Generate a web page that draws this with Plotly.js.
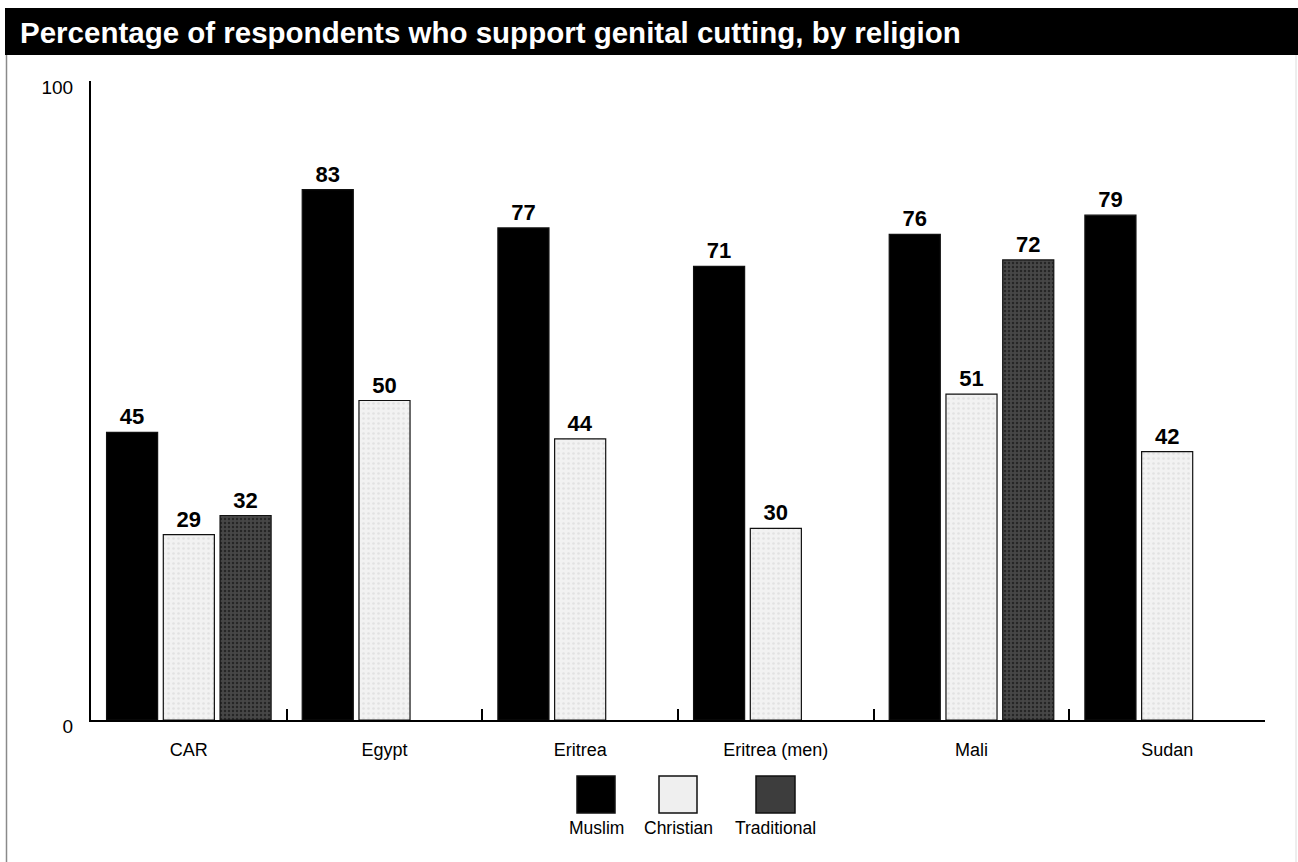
<!DOCTYPE html>
<html>
<head>
<meta charset="utf-8">
<script src="https://cdn.plot.ly/plotly-3.0.1.min.js"></script>
<style>
  html, body { margin: 0; padding: 0; background: #fff; }
  #chart { width: 1298px; height: 862px; }
</style>
</head>
<body>
<div id="chart"></div>
<script>
// Support for genital cutting by religion of respondent (%)
const countries = ["CAR", "Egypt", "Eritrea", "Eritrea (men)", "Mali", "Sudan"];
const muslim      = [45, 83, 77, 71, 76, 79];
const christian   = [29, 50, 44, 30, 51, 42];
const traditional = [32, null, null, null, 72, null];
const seriesNames = ["Muslim", "Christian", "Traditional"];
const yTicks = [0, 100];
const chartTitle = "Percentage of respondents who support genital cutting, by religion";

const FONT = "Liberation Sans, Arial, Helvetica, sans-serif";
const W = 1298, H = 862;
const M = { l: 91, r: 33, t: 81, b: 142 };
const plotW = W - M.l - M.r, plotH = H - M.t - M.b;
// pixel -> paper helpers for decoration placement
const px = x => (x - M.l) / plotW;
const py = y => (H - M.b - y) / plotH;

const fills = ["#000000", "#efefef", "#3d3d3d"];
const lineCol = "#111";

function barTrace(name, values, i) {
  const t = {
    type: "bar",
    name: name,
    x: countries,
    y: values,
    text: values.map(v => v == null ? "" : String(v)),
    texttemplate: "%{text}",
    textposition: "outside",
    cliponaxis: false,
    textfont: { family: FONT, size: 22, color: "#000", weight: "bold" },
    marker: {
      color: fills[i],
      line: { color: lineCol, width: 1.2 }
    },
    hoverinfo: "x+y+name",
    showlegend: false
  };
  if (i === 2) {
    t.marker.pattern = { shape: ".", fgcolor: "#262626", bgcolor: "#474747", size: 4, solidity: 0.3 };
  } else if (i === 1) {
    t.marker.pattern = { shape: ".", fgcolor: "#e2e2e2", bgcolor: "#f2f2f2", size: 5, solidity: 0.2 };
  }
  return t;
}

const data = [
  barTrace(seriesNames[0], muslim, 0),
  barTrace(seriesNames[1], christian, 1),
  barTrace(seriesNames[2], traditional, 2)
];

// legend swatches drawn beneath the axis, names under each box
const legendBoxes = [[577, 615], [659, 697], [756, 795]];
const shapes = [
  // title bar
  { type: "rect", xref: "paper", yref: "paper", x0: px(5), x1: px(1298), y0: py(55), y1: py(8),
    fillcolor: "#000", line: { width: 0 }, layer: "above" },
  // frame edges
  { type: "line", xref: "paper", yref: "paper", x0: px(6.5), x1: px(6.5), y0: py(862), y1: py(55),
    line: { color: "#8a8a8a", width: 1.5 } },
  { type: "line", xref: "paper", yref: "paper", x0: px(1296), x1: px(1296), y0: py(862), y1: py(55),
    line: { color: "#dcdcdc", width: 1 } }
];
const annotations = [];
legendBoxes.forEach((b, i) => {
  shapes.push({ type: "rect", xref: "paper", yref: "paper",
    x0: px(b[0]), x1: px(b[1]), y0: py(813), y1: py(776),
    fillcolor: fills[i], line: { color: lineCol, width: 1.5 } });
  annotations.push({ xref: "paper", yref: "paper", x: px((b[0] + b[1]) / 2), y: py(828),
    xanchor: "center", yanchor: "middle", showarrow: false, text: seriesNames[i],
    font: { family: FONT, size: 17.5, color: "#000" } });
});

const layout = {
  width: W, height: H,
  margin: M,
  paper_bgcolor: "#fff",
  plot_bgcolor: "#fff",
  barmode: "group",
  bargap: 0.13,
  bargroupgap: 0.1,
  title: {
    text: "<b>" + chartTitle + "</b>",
    xref: "container", yref: "container",
    x: 20 / W, xanchor: "left",
    y: 1 - 33 / H, yanchor: "middle",
    font: { family: FONT, size: 29.5, color: "#fff" }
  },
  xaxis: {
    type: "category",
    showline: true, linecolor: "#000", linewidth: 2,
    ticks: "inside", ticklen: 11, tickwidth: 2, tickcolor: "#000",
    tickson: "boundaries",
    ticklabelstandoff: 12,
    tickfont: { family: FONT, size: 18, color: "#000" },
    showgrid: false, zeroline: false, fixedrange: true
  },
  yaxis: {
    range: [0, 100],
    tickvals: yTicks,
    ticktext: yTicks.map(String),
    ticks: "",
    ticklabelstandoff: 12,
    ticklabelshift: 6,
    showline: true, linecolor: "#000", linewidth: 2,
    tickfont: { family: FONT, size: 19, color: "#000" },
    showgrid: false, zeroline: false, fixedrange: true
  },
  shapes: shapes,
  annotations: annotations,
  font: { family: FONT }
};

Plotly.newPlot("chart", data, layout, { displayModeBar: false, staticPlot: true });
</script>
</body>
</html>
